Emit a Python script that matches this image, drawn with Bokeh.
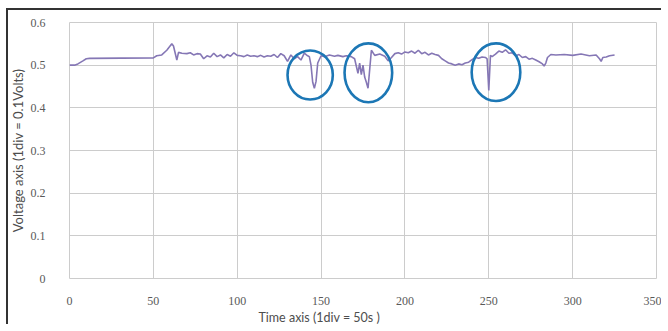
from bokeh.plotting import figure
from bokeh.embed import file_html
from bokeh.resources import INLINE
from bokeh.models import FixedTicker, Title, Range1d

# Data (time in s, voltage in V)
time_s = [0, 3, 5, 8, 10, 12, 50, 52, 55, 58, 61, 62, 64, 65, 67, 70, 72, 74, 76, 78,
          80, 82, 84, 86, 88, 90, 92, 94, 96, 98, 100, 102, 104, 106, 108, 110, 112, 114,
          116, 118, 120, 122, 124, 126, 128, 130, 132, 134, 136, 138, 140, 142, 143, 144,
          145, 146, 147, 148, 150, 152, 155, 158, 160, 163, 165, 168, 170, 172, 173, 174,
          175, 176, 177, 178, 179, 180, 182, 185, 188, 190, 192, 194, 196, 198, 200, 202,
          204, 206, 208, 210, 212, 214, 216, 218, 220, 222, 224, 226, 228, 230, 232, 234,
          236, 238, 240, 242, 244, 246, 248, 249, 250, 251, 252, 254, 256, 258, 260, 262,
          264, 266, 268, 270, 272, 274, 276, 278, 280, 282, 283, 284, 285, 287, 290, 295,
          300, 305, 310, 314, 316, 317, 318, 320, 322, 325]
voltage = [0.500, 0.500, 0.503, 0.510, 0.515, 0.516, 0.517, 0.522, 0.524, 0.535, 0.550,
           0.545, 0.512, 0.530, 0.528, 0.527, 0.529, 0.524, 0.527, 0.526, 0.515, 0.522,
           0.519, 0.528, 0.520, 0.524, 0.517, 0.525, 0.521, 0.529, 0.523, 0.522, 0.520,
           0.524, 0.521, 0.522, 0.520, 0.523, 0.519, 0.522, 0.521, 0.525, 0.518, 0.527,
           0.522, 0.509, 0.524, 0.515, 0.520, 0.512, 0.528, 0.522, 0.520, 0.500, 0.460,
           0.446, 0.462, 0.505, 0.522, 0.520, 0.524, 0.521, 0.523, 0.520, 0.522, 0.520,
           0.515, 0.481, 0.505, 0.478, 0.500, 0.472, 0.460, 0.446, 0.490, 0.535, 0.523,
           0.526, 0.521, 0.510, 0.518, 0.527, 0.529, 0.526, 0.531, 0.529, 0.533, 0.528,
           0.535, 0.527, 0.530, 0.524, 0.528, 0.525, 0.523, 0.515, 0.510, 0.505, 0.503,
           0.500, 0.503, 0.501, 0.505, 0.507, 0.513, 0.518, 0.516, 0.519, 0.518, 0.515,
           0.441, 0.523, 0.520, 0.526, 0.533, 0.530, 0.536, 0.528, 0.529, 0.522, 0.525,
           0.518, 0.520, 0.514, 0.516, 0.512, 0.508, 0.503, 0.498, 0.505, 0.518, 0.525,
           0.524, 0.525, 0.523, 0.526, 0.522, 0.524, 0.515, 0.509, 0.518, 0.519, 0.522,
           0.524]

# Highlighted dips (ellipse centres and sizes in data units)
mark_x = [143.5, 178.2, 254.3]
mark_y = [0.477, 0.482, 0.4835]
mark_w = [27.0, 28.4, 29.0]
mark_h = [0.115, 0.138, 0.135]

x_ticks = [0, 50, 100, 150, 200, 250, 300, 350]
y_ticks = [0, 0.1, 0.2, 0.3, 0.4, 0.5, 0.6]

p = figure(width=655, height=316, output_backend="svg", toolbar_location=None,
           x_range=Range1d(0, 350), y_range=Range1d(0, 0.6),
           min_border_left=59, min_border_top=14, min_border_right=5, min_border_bottom=10)
p.styles = {"box-shadow": "inset 2px 2px 0 #333333",
            "background-color": "white",
            "margin-left": "6px", "margin-top": "8px"}

p.line(time_s, voltage, line_color="#8577b5", line_width=1.6)
p.ellipse(x=mark_x, y=mark_y, width=mark_w, height=mark_h, fill_color=None,
          line_color="#1c77b5", line_width=2.6)

p.xaxis.ticker = FixedTicker(ticks=x_ticks)
p.yaxis.ticker = FixedTicker(ticks=y_ticks)
p.yaxis.major_label_overrides = {0: "0"}
for ax in (p.xaxis, p.yaxis):
    ax.axis_line_color = None
    ax.major_tick_line_color = None
    ax.minor_tick_line_color = None
    ax.major_label_text_font = "Liberation Serif"
    ax.major_label_text_font_size = "12px"
    ax.major_label_text_color = "#595959"
p.yaxis.major_label_standoff = 18
p.xaxis.major_label_standoff = 12

p.yaxis.axis_label = "Voltage axis (1div = 0.1Volts)"
p.yaxis.axis_label_text_font = "Lato"
p.yaxis.axis_label_text_font_size = "13px"
p.yaxis.axis_label_text_font_style = "normal"
p.yaxis.axis_label_text_color = "#4d4d4d"
p.yaxis.axis_label_standoff = 2

p.add_layout(Title(text="Time axis (1div = 50s )", align="left", offset=189,
                   text_font="Lato", text_font_size="12.5px", text_font_style="normal",
                   text_color="#4d4d4d", standoff=0), "below")

p.xgrid.grid_line_color = "#cccccc"
p.ygrid.grid_line_color = "#cccccc"
p.outline_line_color = "#cccccc"
p.background_fill_color = "white"
p.border_fill_alpha = 0

open("out.html", "w").write(file_html(p, INLINE))
